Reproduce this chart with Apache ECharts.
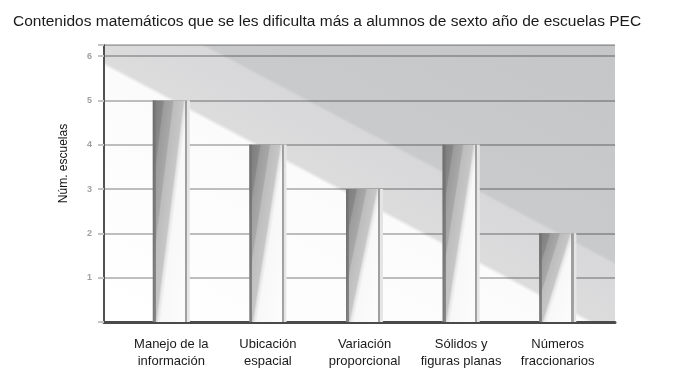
<!DOCTYPE html>
<html>
<head>
<meta charset="utf-8">
<script src="https://cdn.jsdelivr.net/npm/echarts@6/dist/echarts.min.js"></script>
<style>
  html, body { margin: 0; padding: 0; background: #fff; }
  #chart { width: 686px; height: 390px; }
</style>
</head>
<body>
<div id="chart"></div>
<script>
// data
const categories = ['Manejo de la\ninformación', 'Ubicación\nespacial', 'Variación\nproporcional', 'Sólidos y\nfiguras planas', 'Números\nfraccionarios'];
const schools = [5, 4, 3, 4, 2];
const yMin = 0;
const yMax = 6.25;   // axis runs a bit above the top tick
const yStep = 1;

// plot box (px)
const PLOT_LEFT = 104, PLOT_RIGHT = 615, PLOT_TOP = 45, PLOT_BOTTOM = 322;
const PLOT_W = PLOT_RIGHT - PLOT_LEFT, PLOT_H = PLOT_BOTTOM - PLOT_TOP;
const UNIT_PX = PLOT_H / (yMax - yMin);
const BAR_W = 37;
const FONT = "'Liberation Sans', Arial, sans-serif";

const chart = echarts.init(document.getElementById('chart'), null, { renderer: 'canvas' });

// diagonal shaded backdrop, slope of the bands ~0.53
function backdropFill() {
  const m = 0.53;
  const n = Math.sqrt(1 + m * m);
  const L = (m * PLOT_W + PLOT_H) / n;
  const x2 = (PLOT_W - m * L / n) / PLOT_W;
  const y2 = (L / n) / PLOT_H;
  return new echarts.graphic.LinearGradient(1, 0, x2, y2, [
    { offset: 0, color: '#c5c6c8' },
    { offset: 0.395, color: '#c9cacc' },
    { offset: 0.402, color: '#d8d8da' },
    { offset: 0.525, color: '#dcdcdd' },
    { offset: 0.533, color: '#fbfbfb' },
    { offset: 1, color: '#ffffff' }
  ]);
}

// slanted grey shading inside each bar (white wedge at bottom right)
function barFill(value) {
  const w = BAR_W, h = value * UNIT_PX, a = 0.75;
  const gx = h, gy = a * w;
  const k = (1 + a) * w * h / (gx * gx + gy * gy);
  return new echarts.graphic.LinearGradient(0, 0, gx * k / w, gy * k / h, [
    { offset: 0, color: '#7a7a7a' },
    { offset: 0.16, color: '#888888' },
    { offset: 0.18, color: '#9c9c9c' },
    { offset: 0.31, color: '#a8a8a8' },
    { offset: 0.33, color: '#bdbdbd' },
    { offset: 0.47, color: '#c6c6c6' },
    { offset: 0.5, color: '#e6e6e6' },
    { offset: 0.55, color: '#f8f8f8' },
    { offset: 1, color: '#fdfdfd' }
  ]);
}

const edgeFill = new echarts.graphic.LinearGradient(0, 0, 1, 0, [
  { offset: 0, color: 'rgba(105,105,105,0.85)' },
  { offset: 0.08, color: 'rgba(120,120,120,0.8)' },
  { offset: 0.081, color: 'rgba(0,0,0,0)' },
  { offset: 0.87, color: 'rgba(0,0,0,0)' },
  { offset: 0.871, color: 'rgba(135,135,135,0.8)' },
  { offset: 0.93, color: 'rgba(140,140,140,0.8)' },
  { offset: 0.931, color: 'rgba(215,215,215,0.6)' },
  { offset: 1, color: 'rgba(215,215,215,0.6)' }
]);

var option = {
  backgroundColor: '#ffffff',
  animation: false,
  title: {
    text: 'Contenidos matemáticos que se les dificulta más a alumnos de sexto año de escuelas PEC',
    left: 8,
    top: 9,
    textStyle: {
      fontFamily: FONT,
      fontSize: 15.5,
      fontWeight: 'normal',
      color: '#1a1a1a'
    }
  },
  grid: [
    // backdrop grid with the visible y axis
    { left: PLOT_LEFT, right: 686 - PLOT_RIGHT, top: PLOT_TOP, bottom: 390 - PLOT_BOTTOM,
      show: true, borderWidth: 0, backgroundColor: backdropFill() },
    // bars sit a little inside the backdrop
    { left: 123, right: 80, top: PLOT_TOP, bottom: 390 - PLOT_BOTTOM }
  ],
  xAxis: [
    {
      gridIndex: 0, type: 'value', min: 0, max: 1,
      axisLine: { show: true, lineStyle: { color: '#4a4a4a', width: 3 } },
      axisTick: { show: false }, axisLabel: { show: false }, splitLine: { show: false }
    },
    {
      gridIndex: 1, type: 'category', data: categories,
      axisLine: { show: false }, axisTick: { show: false },
      axisLabel: {
        interval: 0,
        margin: 14,
        lineHeight: 17,
        fontFamily: FONT,
        fontSize: 13,
        color: '#1a1a1a'
      }
    }
  ],
  yAxis: [
    {
      gridIndex: 0, type: 'value', min: yMin, max: yMax, interval: yStep,
      name: 'Núm. escuelas',
      nameLocation: 'middle',
      nameGap: 34,
      nameTextStyle: { fontFamily: FONT, fontSize: 12, color: '#111', padding: [0, 0, 0, 40] },
      axisLine: { show: true, lineStyle: { color: '#505050', width: 2 } },
      axisTick: { show: true, length: 6, lineStyle: { color: '#c4c4c4', width: 2 } },
      axisLabel: {
        margin: 12, fontSize: 9, fontWeight: 'bold', color: '#a0a0a0',
        formatter: function (v) { return (v % 1 === 0 && v > 0) ? String(v) : ''; }
      },
      splitLine: { show: true, lineStyle: { color: 'rgba(0,0,0,0.25)', width: 2 } }
    },
    {
      gridIndex: 1, type: 'value', min: yMin, max: yMax, interval: yStep, show: false,
      splitLine: { show: false }
    }
  ],
  series: [
    {
      type: 'bar',
      xAxisIndex: 1, yAxisIndex: 1,
      barWidth: BAR_W,
      data: schools.map(function (v) { return { value: v, itemStyle: { color: barFill(v) } }; })
    },
    {
      type: 'bar',
      xAxisIndex: 1, yAxisIndex: 1,
      barWidth: BAR_W,
      barGap: '-100%',
      silent: true,
      itemStyle: { color: edgeFill },
      data: schools
    }
  ]
};

chart.setOption(option);
</script>
</body>
</html>
